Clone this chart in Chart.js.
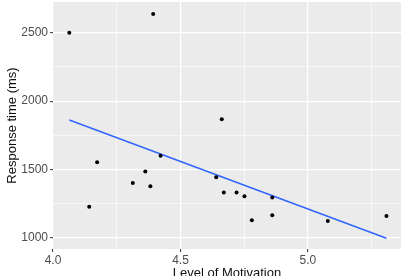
<!DOCTYPE html>
<html>
<head>
<meta charset="utf-8">
<script src="https://cdn.jsdelivr.net/npm/chart.js@4/dist/chart.umd.min.js"></script>
<style>
html,body{margin:0;padding:0;background:#fff;}
#wrap{width:403px;height:276px;position:relative;}
</style>
</head>
<body>
<div id="wrap"><canvas id="c"></canvas></div>
<script>
// Data
const motivation = [4.064, 4.393, 4.662, 4.173, 4.142, 4.313, 4.362, 4.382, 4.422, 4.640, 4.670, 4.720, 4.751, 4.780, 4.860, 4.860, 5.078, 5.308];
const responseTime = [2500, 2638, 1867, 1553, 1227, 1401, 1485, 1377, 1601, 1442, 1331, 1331, 1304, 1128, 1295, 1164, 1123, 1159];
// Fitted line endpoints
const fitX = [4.064, 5.308];
const fitY = [1861, 996];
// Axis ticks
const xTicks = [4.0, 4.25, 4.5, 4.75, 5.0, 5.25];
const xMajor = [4.0, 4.5, 5.0];
const yTicks = [1000, 1250, 1500, 1750, 2000, 2250, 2500];
const yMajor = [1000, 1500, 2000, 2500];
const xTitle = 'Level of Motivation';
const yTitle = 'Response time (ms)';

const isMaj = (arr, v) => arr.some(m => Math.abs(m - v) < 1e-9);

const panelBg = {
  id: 'panelBg',
  beforeDraw(chart) {
    const {ctx, chartArea: a} = chart;
    ctx.save();
    ctx.fillStyle = '#ebebeb';
    ctx.fillRect(a.left, a.top, a.right - a.left, a.bottom - a.top);
    ctx.restore();
  }
};

new Chart(document.getElementById('c'), {
  type: 'scatter',
  data: {
    datasets: [
      {
        label: 'points',
        data: motivation.map((x, i) => ({x: x, y: responseTime[i]})),
        backgroundColor: '#000',
        borderColor: '#000',
        pointRadius: 2,
        pointHoverRadius: 2,
        borderWidth: 0
      },
      {
        label: 'fit',
        type: 'line',
        data: fitX.map((x, i) => ({x: x, y: fitY[i]})),
        borderColor: '#3366FF',
        borderWidth: 1.6,
        pointRadius: 0,
        fill: false
      }
    ]
  },
  options: {
    responsive: true,
    maintainAspectRatio: false,
    animation: false,
    layout: {padding: 0},
    plugins: {legend: {display: false}, tooltip: {enabled: false}},
    scales: {
      x: {
        type: 'linear',
        min: 4.0,
        max: 5.365,
        afterBuildTicks(s) { s.ticks = xTicks.map(v => ({value: v})); },
        afterFit(s) { s.height = 27; s.paddingLeft = 0; s.paddingRight = 0; },
        border: {display: false},
        grid: {
          color: '#ffffff',
          lineWidth: c => isMaj(xMajor, c.tick ? c.tick.value : 0) ? 1.2 : 0.6,
          tickColor: c => isMaj(xMajor, c.tick ? c.tick.value : 0) ? '#333333' : 'rgba(0,0,0,0)',
          tickLength: 3,
          tickWidth: 1
        },
        ticks: {
          padding: 1,
          color: '#4d4d4d',
          font: {family: 'Liberation Sans', size: 12},
          maxRotation: 0,
          autoSkip: false,
          callback: v => isMaj(xMajor, v) ? v.toFixed(1) : ''
        },
        title: {
          display: true,
          text: xTitle,
          color: '#111',
          font: {family: 'Liberation Sans', size: 13},
          padding: {top: 0, bottom: -5}
        }
      },
      y: {
        type: 'linear',
        min: 918,
        max: 2725,
        afterBuildTicks(s) { s.ticks = yTicks.map(v => ({value: v})); },
        afterFit(s) { s.width = 53; s.paddingTop = 0; s.paddingBottom = 0; },
        border: {display: false},
        grid: {
          color: '#ffffff',
          lineWidth: c => isMaj(yMajor, c.tick ? c.tick.value : 0) ? 1.2 : 0.6,
          tickColor: c => isMaj(yMajor, c.tick ? c.tick.value : 0) ? '#333333' : 'rgba(0,0,0,0)',
          tickLength: 3,
          tickWidth: 1
        },
        ticks: {
          padding: 2,
          color: '#4d4d4d',
          font: {family: 'Liberation Sans', size: 12},
          autoSkip: false,
          callback: v => isMaj(yMajor, v) ? String(v) : ''
        },
        title: {
          display: true,
          text: yTitle,
          color: '#111',
          font: {family: 'Liberation Sans', size: 13},
          padding: {top: 5, bottom: 0}
        }
      }
    }
  },
  plugins: [panelBg]
});
</script>
</body>
</html>
